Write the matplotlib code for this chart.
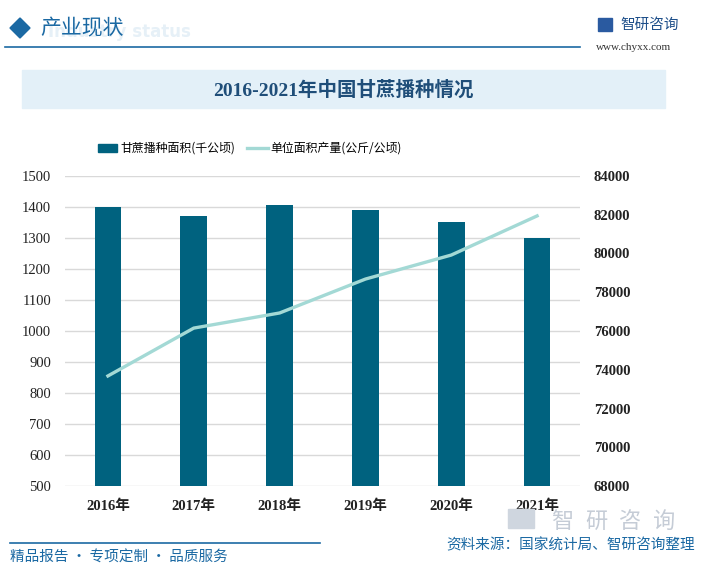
"""2016-2021年中国甘蔗播种情况: bar (area) + line (yield) on twin axes."""
import matplotlib
matplotlib.use("Agg")
import matplotlib.pyplot as plt
from matplotlib.patches import Rectangle, Polygon
from matplotlib.lines import Line2D

plt.rcParams["font.family"] = ["Liberation Serif", "Noto Sans CJK SC", "DejaVu Sans"]

years = ["2016年", "2017年", "2018年", "2019年", "2020年", "2021年"]
area = [1400, 1370, 1406, 1390, 1352, 1300]          # 千公顷
yield_per_ha = [73680, 76150, 76930, 78680, 79920, 81940]  # 公斤/公顷

BAR = "#00627f"
LINE = "#a3d9d5"
BLUE = "#1b69a3"
W, H = 701, 571

fig = plt.figure(figsize=(W / 100, H / 100), dpi=100)
fig.patch.set_facecolor("white")


def px(x, y):
    return x / W, 1 - y / H


# header
fig.patches.append(Polygon([px(10, 28), px(20, 18), px(30, 28), px(20, 38)],
                           closed=True, transform=fig.transFigure, color=BLUE))
fig.text(*px(48, 32), "Industry status", fontsize=12, color="#e6f0f7",
         fontweight="bold", family="DejaVu Sans", ha="left", va="center", zorder=0)
fig.text(*px(40, 28), "产业现状", fontsize=15, color=BLUE, family="Noto Sans CJK SC",
         ha="left", va="center")
fig.add_artist(Line2D([5 / W, 580 / W], [1 - 47 / H] * 2, color=BLUE, lw=1.2))
fig.text(*px(620, 25), "智研咨询", fontsize=10.5, color="#1e4f8a",
         family="Noto Sans CJK SC", ha="left", va="center")
fig.patches.append(Rectangle(px(598, 31), 14 / W, 13 / H, transform=fig.transFigure,
                             color="#2a5aa0"))
fig.text(*px(634, 47), "www.chyxx.com", fontsize=8, color="#333333",
         family="Liberation Serif", ha="center", va="center")

# title box
fig.patches.append(Rectangle(px(22, 108), (665 - 22) / W, 38 / H,
                             transform=fig.transFigure, color="#e3f0f8", zorder=0))
fig.text(*px(343, 90), "2016-2021年中国甘蔗播种情况", fontsize=14, color="#1f4e79",
         fontweight="bold", ha="center", va="center")

# main axes
ax = fig.add_axes([65 / W, 85 / H, 515 / W, 310 / H])
x = range(len(years))
ax.bar(x, area, width=0.31, color=BAR, zorder=3, label="甘蔗播种面积(千公顷)")
ax.set_xlim(-0.5, 5.5)
ax.set_ylim(500, 1500)
ax.set_yticks(range(500, 1501, 100))
ax.grid(axis="y", color="#d9d9d9", lw=1, zorder=0)
for s in ax.spines.values():
    s.set_visible(False)
ax.tick_params(length=0, labelsize=10.5, pad=10, colors="#222222")
ax.set_xticks(list(x))
ax.set_xticklabels(years, fontweight="bold", fontsize=10.5)

ax2 = ax.twinx()
ax2.plot(x, yield_per_ha, color=LINE, lw=2.4, zorder=4, label="单位面积产量(公斤/公顷)")
ax2.set_ylim(68000, 84000)
ax2.set_yticks(range(68000, 84001, 2000))
for s in ax2.spines.values():
    s.set_visible(False)
ax2.tick_params(length=0, labelsize=10.5, pad=10, colors="#222222")
for t in ax2.get_yticklabels():
    t.set_fontweight("bold")

# legend
fig.patches.append(Rectangle(px(98, 152), 19 / W, 8 / H, transform=fig.transFigure, color=BAR))
fig.text(*px(120, 148), "甘蔗播种面积(千公顷)", fontsize=8.6, ha="left", va="center",
         family=["Noto Sans CJK SC"], color="#000000")
fig.add_artist(Line2D([247 / W, 268 / W], [1 - 148 / H] * 2, color=LINE, lw=2.4))
fig.text(*px(270, 148), "单位面积产量(公斤/公顷)", fontsize=8.6, ha="left", va="center",
         family=["Noto Sans CJK SC"], color="#000000")

# footer watermark logo
fig.patches.append(Rectangle(px(508, 528), 26 / W, 19 / H, transform=fig.transFigure,
                             color="#cfd6df"))
for i, ch in enumerate("智研咨询"):
    fig.text(*px(562 + 34 * i, 521), ch, fontsize=16, color="#c5ccd6",
             family="Noto Sans CJK SC", ha="center", va="center")
fig.add_artist(Line2D([10 / W, 320 / W], [1 - 543 / H] * 2, color=BLUE, lw=1.2))
fig.text(*px(10, 558), "精品报告 · 专项定制 · 品质服务", fontsize=10.5, color=BLUE,
         family="Noto Sans CJK SC", ha="left", va="center")
fig.text(*px(695, 545), "资料来源：国家统计局、智研咨询整理", fontsize=10.5, color=BLUE,
         family="Noto Sans CJK SC", ha="right", va="center")

fig.savefig("out.png", dpi=100)
